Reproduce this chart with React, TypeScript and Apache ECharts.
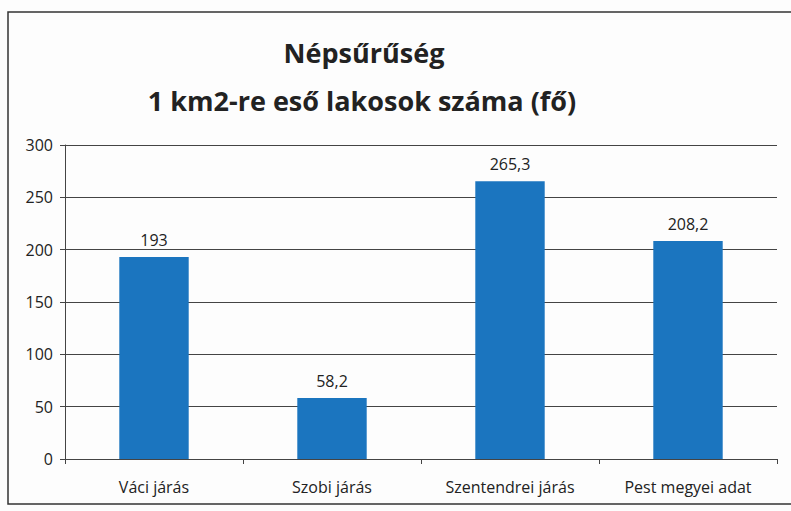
import React, { useEffect, useRef } from "react";
import * as echarts from "echarts";

const categories = ["Váci járás", "Szobi járás", "Szentendrei járás", "Pest megyei adat"];
const values = [193, 58.2, 265.3, 208.2];
const valueLabels = ["193", "58,2", "265,3", "208,2"];
const titleLines = ["Népsűrűség", "1 km2-re eső lakosok száma (fő)"];

const FONT = "'Open Sans', 'Noto Sans', sans-serif";

export default function App() {
  const ref = useRef<HTMLDivElement>(null);
  useEffect(() => {
    if (!ref.current) return;
    const chart = echarts.init(ref.current, undefined, { renderer: "svg" });
    chart.setOption({
      animation: false,
      backgroundColor: "#fdfdfd",
      textStyle: { fontFamily: FONT },
      graphic: [
        {
          type: "rect",
          shape: { x: 8, y: 12, width: 800, height: 492 },
          style: { fill: "none", stroke: "#333", lineWidth: 1.5 },
          silent: true,
        },
        {
          type: "text",
          x: 364,
          y: 52,
          style: {
            text: titleLines[0],
            font: `bold 27px ${FONT}`,
            fill: "#222",
            textAlign: "center",
            textVerticalAlign: "middle",
          },
        },
        {
          type: "text",
          x: 362,
          y: 100,
          style: {
            text: titleLines[1],
            font: `bold 27px ${FONT}`,
            fill: "#222",
            textAlign: "center",
            textVerticalAlign: "middle",
          },
        },
      ],
      grid: { left: 65, right: 14, top: 145, bottom: 52, containLabel: false },
      xAxis: {
        type: "category",
        data: categories,
        axisLine: { lineStyle: { color: "#444", width: 1 } },
        axisTick: { show: true, alignWithLabel: false, length: 5, lineStyle: { color: "#444" } },
        axisLabel: { color: "#222", fontSize: 16, margin: 20, fontFamily: FONT },
      },
      yAxis: {
        type: "value",
        min: 0,
        max: 300,
        interval: 50,
        axisLine: { show: true, lineStyle: { color: "#444" } },
        axisTick: { show: true, length: 5, lineStyle: { color: "#444" } },
        axisLabel: { color: "#222", fontSize: 16, margin: 12, fontFamily: FONT },
        splitLine: { lineStyle: { color: "#444", width: 1 } },
      },
      series: [
        {
          type: "bar",
          data: values,
          barWidth: "39%",
          itemStyle: { color: "#1b75bf" },
          label: {
            show: true,
            position: "top",
            distance: 9,
            color: "#222",
            fontSize: 16,
            fontFamily: FONT,
            formatter: (p: any) => valueLabels[p.dataIndex],
          },
        },
      ],
    });
    return () => chart.dispose();
  }, []);
  return (
    <div
      ref={ref}
      style={{ position: "fixed", left: 0, top: 0, width: 791, height: 511 }}
    />
  );
}
